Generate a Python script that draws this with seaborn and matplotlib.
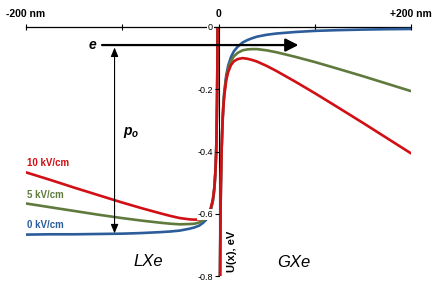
import matplotlib
matplotlib.use("Agg")
import matplotlib.pyplot as plt
import seaborn as sns
import pandas as pd

# ---- data ----
fields = ["0 kV/cm", "5 kV/cm", "10 kV/cm"]
colors = ["#2C5D9A", "#5F7A3C", "#D10F15"]

x_left = [-200, -175, -150, -125, -100, -80, -60, -50, -40, -30, -25, -20, -16,
          -13, -10, -8, -6, -5, -4, -3, -2.5, -2, -1.5, -1.2, -1.0, -0.8]
u_left_0 = [-0.667, -0.666, -0.666, -0.665, -0.664, -0.662, -0.659, -0.657, -0.654,
            -0.648, -0.644, -0.638, -0.629, -0.620, -0.605, -0.589, -0.562, -0.540,
            -0.508, -0.453, -0.410, -0.345, -0.237, -0.128, -0.020, 0.143]
u_left_5 = [-0.567, -0.579, -0.591, -0.603, -0.614, -0.622, -0.629, -0.632, -0.634,
            -0.633, -0.632, -0.628, -0.621, -0.6135, -0.600, -0.585, -0.559, -0.5375,
            -0.506, -0.4515, -0.409, -0.344, -0.236, -0.127, -0.0195, 0.143]
u_left_10 = [-0.467, -0.491, -0.516, -0.540, -0.564, -0.582, -0.599, -0.607, -0.614,
             -0.618, -0.619, -0.618, -0.613, -0.607, -0.595, -0.581, -0.556, -0.535,
             -0.504, -0.450, -0.4075, -0.343, -0.2355, -0.127, -0.019, 0.144]

x_right = [1.2, 1.5, 2, 2.5, 3, 4, 5, 6, 8, 10, 13, 16, 20, 25, 30, 35, 40, 50, 60,
           80, 100, 125, 150, 175, 200]
u_right_0 = [-1.042, -0.833, -0.625, -0.5, -0.417, -0.313, -0.25, -0.208, -0.156,
             -0.125, -0.096, -0.078, -0.063, -0.05, -0.042, -0.036, -0.031, -0.025,
             -0.021, -0.016, -0.0125, -0.010, -0.0083, -0.0071, -0.0063]
u_right_5 = [-1.043, -0.835, -0.627, -0.503, -0.420, -0.317, -0.255, -0.214, -0.164,
             -0.135, -0.109, -0.094, -0.083, -0.075, -0.072, -0.071, -0.071, -0.075,
             -0.081, -0.096, -0.1125, -0.135, -0.158, -0.182, -0.206]
u_right_10 = [-1.044, -0.836, -0.629, -0.505, -0.423, -0.321, -0.26, -0.22, -0.172,
              -0.145, -0.122, -0.110, -0.103, -0.100, -0.102, -0.106, -0.111, -0.125,
              -0.141, -0.176, -0.2125, -0.26, -0.308, -0.357, -0.406]

x_ticks = [-200, -100, 0, 100, 200]
x_tick_labels = ["-200 nm", "", "0", "", "+200 nm"]
y_ticks = [-0.8, -0.6, -0.4, -0.2, 0.0]
y_tick_labels = ["-0.8", "-0.6", "-0.4", "-0.2", "0"]

# ---- build long table ----
rows = []
left_sets = [u_left_0, u_left_5, u_left_10]
right_sets = [u_right_0, u_right_5, u_right_10]
for f, ul, ur in zip(fields, left_sets, right_sets):
    for xv, uv in zip(x_left, ul):
        rows.append({"x": xv, "U": uv, "field": f, "side": "L"})
    for xv, uv in zip(x_right, ur):
        rows.append({"x": xv, "U": uv, "field": f, "side": "G"})
df = pd.DataFrame(rows)

sns.set_theme(style="white")
plt.rcParams["font.family"] = ["Liberation Sans", "DejaVu Sans"]
plt.rcParams["mathtext.fontset"] = "custom"
plt.rcParams["mathtext.it"] = "Liberation Sans:italic:bold"
plt.rcParams["mathtext.rm"] = "Liberation Sans:bold"
plt.rcParams["text.color"] = "black"
plt.rcParams["axes.labelcolor"] = "black"

fig = plt.figure(figsize=(4.32, 2.87), dpi=100)
ax = fig.add_axes([26 / 432, 11 / 287, 385 / 432, 249 / 287])

sns.lineplot(data=df, x="x", y="U", hue="field", hue_order=fields,
             palette=dict(zip(fields, colors)), units="side", estimator=None,
             sort=False, linewidth=1.9, legend=False, ax=ax, zorder=3)

ax.set_xlim(-200, 200)
ax.set_ylim(-0.8, 0)

# axes styling
for s in ["right", "bottom"]:
    ax.spines[s].set_visible(False)
ax.spines["left"].set_position(("data", 0))
ax.spines["left"].set_color("black")
ax.spines["left"].set_linewidth(0.8)
ax.spines["top"].set_color("black")
ax.spines["top"].set_linewidth(0.9)

ax.xaxis.tick_top()
ax.set_xticks(x_ticks)
ax.set_xticklabels(x_tick_labels)
ax.tick_params(axis="x", direction="inout", length=5, width=0.8, pad=3.5,
               labelsize=7.5, colors="black")
for lbl in ax.get_xticklabels():
    lbl.set_fontweight("bold")

ax.set_yticks(y_ticks)
ax.set_yticklabels(y_tick_labels)
ax.tick_params(axis="y", direction="out", length=3, width=0.8, pad=1,
               labelsize=6.5, colors="black", left=True)
for lbl in ax.get_yticklabels():
    lbl.set_bbox(dict(facecolor="white", edgecolor="none", pad=0.6))
ax.yaxis.set_zorder(4)

ax.set_xlabel("")
ax.set_ylabel("U(x), eV", fontsize=8, fontweight="bold", color="black")
ax.yaxis.set_label_coords(0.548, 0.1)

# field labels
label_y = [-0.636, -0.539, -0.437]
for f, c, yy in zip(fields, colors, label_y):
    ax.text(-199, yy, f, color=c, fontsize=7, fontweight="bold",
            ha="left", va="center")

# electron arrow
ax.text(-131, -0.058, "e", fontsize=10, fontweight="bold", fontstyle="italic",
        ha="center", va="center", color="black")
ax.annotate("", xy=(83, -0.058), xytext=(-121, -0.058),
            arrowprops=dict(arrowstyle="-|>,head_length=0.55,head_width=0.28",
                            lw=1.6, color="black", mutation_scale=14,
                            shrinkA=0, shrinkB=0), zorder=5)
# p_o double arrow
ax.annotate("", xy=(-108, -0.066), xytext=(-108, -0.663),
            arrowprops=dict(arrowstyle="<|-|>,head_length=0.6,head_width=0.25",
                            lw=0.8, color="black", mutation_scale=9,
                            shrinkA=0, shrinkB=0), zorder=5)
ax.text(-91, -0.338, r"$p_o$", fontsize=10, ha="center", va="center", color="black")

ax.text(-73, -0.754, "LXe", fontsize=12, fontstyle="italic", ha="center",
        va="center", color="black")
ax.text(78, -0.756, "GXe", fontsize=12, fontstyle="italic", ha="center",
        va="center", color="black")

fig.savefig("out.png", dpi=100)
